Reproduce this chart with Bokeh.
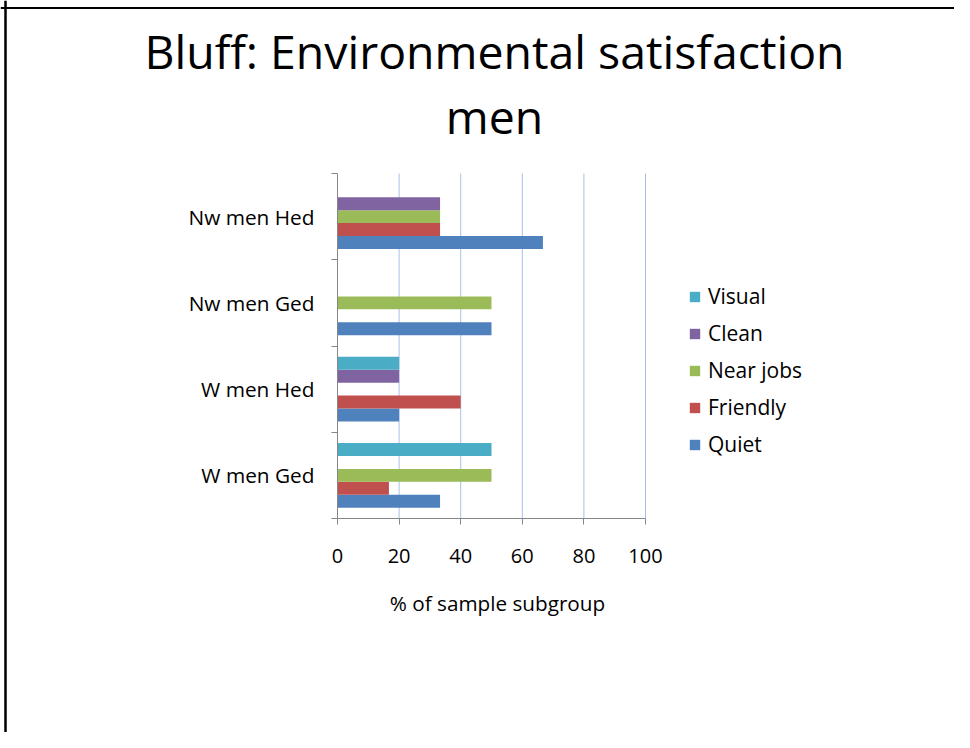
from bokeh.plotting import figure
from bokeh.models import (ColumnDataSource, Range1d, FixedTicker, Legend, LegendItem,
                          Label, Span)
from bokeh.embed import file_html
from bokeh.resources import INLINE

# ---- data ----
categories = ["W men Ged", "W men Hed", "Nw men Ged", "Nw men Hed"]
series_names = ["Quiet", "Friendly", "Near jobs", "Clean", "Visual"]
quiet = [33.3, 20, 50, 66.7]
friendly = [16.7, 40, 0, 33.3]
near_jobs = [50, 0, 50, 33.3]
clean = [0, 20, 0, 33.3]
visual = [50, 20, 0, 0]
series_values = [quiet, friendly, near_jobs, clean, visual]
series_colors = ["#4F81BD", "#C0504D", "#9BBB59", "#8064A2", "#4BACC6"]
x_ticks = [0, 20, 40, 60, 80, 100]
title_lines = ["Bluff: Environmental satisfaction", "men"]
x_title = "% of sample subgroup"

FONT = "Open Sans"

# ---- layout (canvas pixels, measured from top-left) ----
W, H = 954, 732
ax_left, ax_w = 337, 308          # x = 0 .. 100
ax_bottom, cat_h = 518, 86.25     # y = 0 at row 518, one category per 86.25 px
xmax = x_ticks[-1]
ppu = ax_w / xmax

def sx(px):   # canvas column -> data x
    return (px - ax_left) / ppu

def sy(py):   # canvas row -> data y
    return (ax_bottom - py) / cat_h

p = figure(width=W, height=H, output_backend="svg", toolbar_location=None,
           x_range=Range1d(sx(0), sx(W)), y_range=Range1d(sy(H), sy(0)),
           min_border=0)
p.outline_line_color = None
p.background_fill_color = "white"
p.border_fill_color = "white"

# page frame lines (top and left)
p.add_layout(Span(location=sy(7.5), dimension="width", line_color="black", line_width=2))
p.add_layout(Span(location=sx(5), dimension="height", line_color="black", line_width=2.5))

ncat = len(categories)

# vertical gridlines over the category band
p.segment(x0=x_ticks[1:], x1=x_ticks[1:], y0=0, y1=ncat, line_color="#a9c0e6", line_width=1)

n = len(series_names)
bar_h = 0.75 / n
bars = []
for k, (name, vals, col) in enumerate(zip(series_names, series_values, series_colors)):
    off = (k - (n - 1) / 2) * bar_h
    src = ColumnDataSource(dict(y=[i + 0.5 + off for i in range(ncat)], right=vals))
    r = p.hbar(y="y", left=0, right="right", height=bar_h, source=src,
               fill_color=col, line_color=None)
    bars.append(r)

# x axis at y = 0
xa = p.xaxis[0]
xa.fixed_location = 0
xa.bounds = (0, xmax)
xa.ticker = FixedTicker(ticks=x_ticks)
xa.axis_line_color = "#868686"
xa.major_tick_line_color = "#868686"
xa.major_tick_out = 6
xa.major_tick_in = 0
xa.minor_tick_line_color = None
xa.major_label_text_font = FONT
xa.major_label_text_font_size = "20px"
xa.major_label_text_color = "black"
xa.major_label_standoff = 24

# y axis at x = 0: labels at category centres, ticks at boundaries
ya = p.yaxis[0]
ya.fixed_location = 0
ya.bounds = (0, ncat)
ya.ticker = FixedTicker(ticks=[i + 0.5 for i in range(ncat)],
                        minor_ticks=list(range(ncat + 1)))
ya.major_label_overrides = {i + 0.5: c for i, c in enumerate(categories)}
ya.axis_line_color = "#868686"
ya.major_tick_line_color = None
ya.major_tick_out = 0
ya.major_tick_in = 0
ya.minor_tick_line_color = "#868686"
ya.minor_tick_out = 6
ya.minor_tick_in = 0
ya.major_label_text_font = FONT
ya.major_label_text_font_size = "20.8px"
ya.major_label_text_color = "black"
ya.major_label_standoff = 17

p.xgrid.grid_line_color = None
p.ygrid.grid_line_color = None

# x axis title
p.add_layout(Label(x=497, y=H - 602, x_units="screen", y_units="screen", text=x_title,
                   text_font=FONT, text_font_size="20.7px", text_color="black",
                   text_align="center", text_baseline="middle"))

# legend (Visual on top)
items = [LegendItem(label=name, renderers=[r]) for name, r in zip(series_names, bars)][::-1]
legend = Legend(items=items, location=(688, H - 459), orientation="vertical",
                glyph_width=13, glyph_height=13, label_standoff=7,
                label_text_font=FONT, label_text_font_size="21px", label_text_color="black",
                label_height=30, spacing=7, padding=0, margin=0,
                border_line_color=None, background_fill_alpha=0)
p.add_layout(legend, "center")

# title (two lines)
for txt, yy in zip(title_lines, [50, 115]):
    p.add_layout(Label(x=494, y=H - yy, x_units="screen", y_units="screen", text=txt,
                       text_font=FONT, text_font_size="46.4px", text_color="black",
                       text_align="center", text_baseline="middle"))

open("out.html", "w").write(file_html(p, INLINE))
